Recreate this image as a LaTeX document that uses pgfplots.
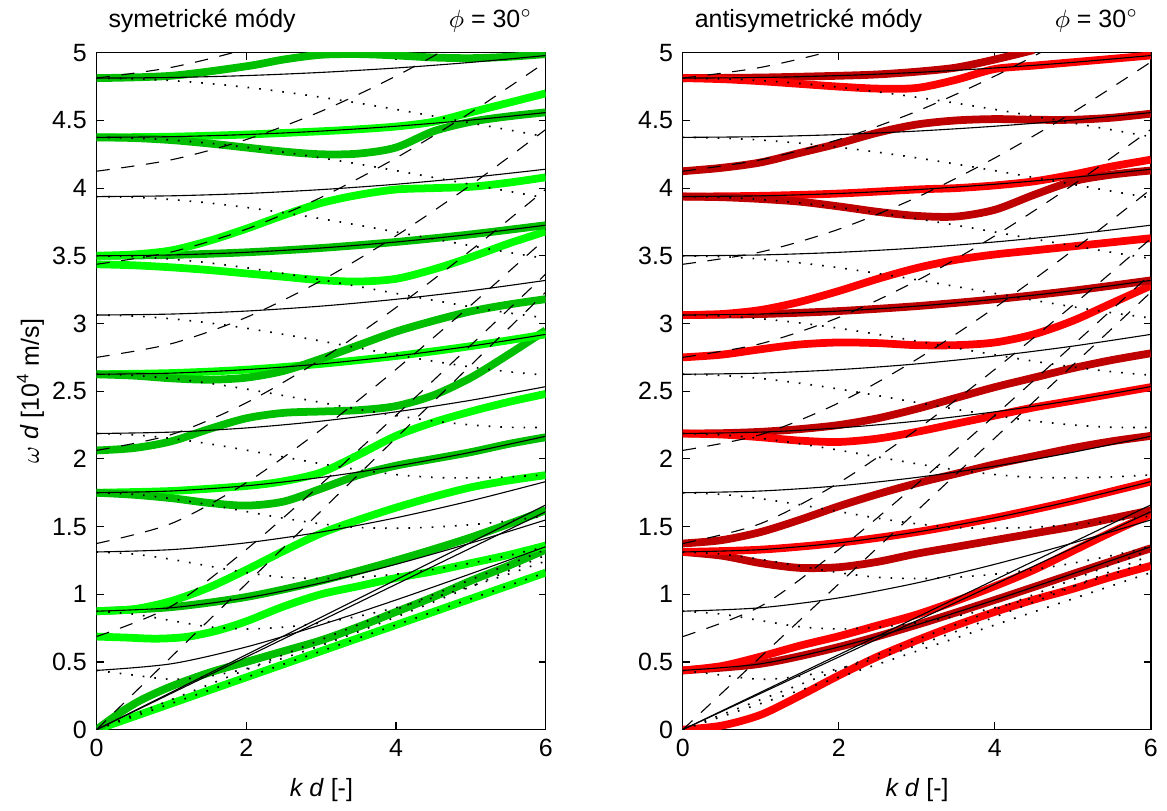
\documentclass[border=0pt]{standalone}
\usepackage{fontspec}
\setmainfont{Liberation Sans}
\usepackage{pgfplots}
\usepackage{pgfplotstable}
\pgfplotsset{compat=1.18}

\definecolor{lgr}{RGB}{0,255,0}
\definecolor{dgr}{RGB}{0,190,0}
\definecolor{lrd}{RGB}{255,0,0}
\definecolor{drd}{RGB}{190,0,0}
\newcommand{\fs}{\fontsize{9}{10.8}\selectfont}

% thin solid family (k, n=1..11)
\pgfplotstableread{
k t1 t2 t3 t4 t5 t6 t7 t8 t9 t10 t11
0 0.4375 0.875 1.3125 1.75 2.1875 2.625 3.0625 3.5 3.9375 4.375 4.8125
1 0.4866 0.9006 1.3297 1.7629 2.1979 2.6336 3.0699 3.5065 3.9433 4.3802 4.8172
2 0.6107 0.9733 1.3800 1.8012 2.2286 2.6594 3.0920 3.5259 3.9605 4.3957 4.8313
3 0.7746 1.0836 1.4599 1.8631 2.2790 2.7017 3.1285 3.5579 3.9891 4.4214 4.8548
4 0.9580 1.2215 1.5650 1.9465 2.3477 2.7599 3.1789 3.6023 4.0287 4.4573 4.8874
5 1.1517 1.3786 1.6905 2.0488 2.4331 2.8330 3.2425 3.6586 4.0791 4.5028 4.9290
6 1.3512 1.5492 1.8322 2.1672 2.5337 2.9198 3.3186 3.7262 4.1398 4.5580 4.9794
}\thintab

% dashed family (k, j=1..7)
\pgfplotstableread{
k a1 a2 a3 a4 a5 a6 a7
0 0.6875 1.375 2.0625 2.75 3.4375 4.125 4.8125
1 0.9119 1.5225 2.1795 2.8509 3.5285 4.2093 4.8920
2 1.3305 1.8236 2.4138 3.0451 3.6965 4.3590 5.0282
3 1.8136 2.2165 2.7355 3.3163 3.9316 4.5676 5.2167
4 2.3212 2.6610 3.1175 3.6473 4.2227 4.8276 5.4520
5 2.8402 3.1350 3.5405 4.0234 4.5591 5.1310 5.7290
6 3.3653 3.6271 3.9914 4.4331 4.9314 5.4710 6.0400
}\dashtab

% dotted family (k, n=1..11)
\pgfplotstableread{
k d1 d2 d3 d4 d5 d6 d7 d8 d9 d10 d11
0.0 0.4375 0.8750 1.3125 1.7500 2.1875 2.6250 3.0625 3.5000 3.9375 4.3750 4.8125
0.5 0.4028 0.8530 1.2968 1.7379 2.1776 2.6167 3.0553 3.4937 3.9318 4.3699 4.8078
1.0 0.3719 0.8055 1.2580 1.7061 2.1509 2.5937 3.0351 3.4757 3.9157 4.3552 4.7944
1.5 0.3945 0.7601 1.2083 1.6615 2.1117 2.5591 3.0043 3.4480 3.8905 4.3322 4.7731
2.0 0.4504 0.7440 1.1600 1.6111 2.0646 2.5160 2.9651 3.4121 3.8576 4.3018 4.7450
2.5 0.5293 0.7570 1.1253 1.5617 2.0138 2.4675 2.9197 3.3700 3.8183 4.2651 4.7108
3.0 0.6224 0.7890 1.1160 1.5202 1.9639 2.4166 2.8703 3.3230 3.7741 4.2235 4.6714
3.5 0.7243 0.8379 1.1257 1.4936 1.9193 2.3664 2.8194 3.2732 3.7262 4.1778 4.6280
4.0 0.8318 0.9008 1.1484 1.4880 1.8843 2.3200 2.7690 3.2221 3.6759 4.1292 4.5814
4.5 0.9429 0.9752 1.1835 1.4960 1.8633 2.2803 2.7215 3.1717 3.6249 4.0788 4.5322
5.0 1.0566 1.0585 1.2298 1.5140 1.8600 2.2506 2.6791 3.1234 3.5743 4.0276 4.4814
5.5 1.1720 1.1489 1.2861 1.5415 1.8670 2.2338 2.6439 3.0791 3.5256 3.9771 4.4304
6.0 1.2888 1.2448 1.3513 1.5780 1.8820 2.2319 2.6185 3.0404 3.4800 3.9279 4.3799
}\dottab

\pgfplotsset{
  thn/.style={black, line width=0.4pt, smooth},
  dsh/.style={black, line width=0.4pt, smooth, dash pattern=on 4.8pt off 4.2pt},
  dtt/.style={black, line width=0.6pt, smooth, dash pattern=on 0.6pt off 3.6pt},
  thk/.style={line width=2.8pt, smooth},
  panel/.style={
    scale only axis, height=244.1pt, anchor=south west,
    xmin=0, xmax=6, ymin=0, ymax=5,
    xtick={0,2,4,6}, ytick={0,0.5,1,1.5,2,2.5,3,3.5,4,4.5,5},
    tick align=inside, major tick length=2.6pt,
    tick style={black, line width=0.4pt},
    axis line style={line width=0.5pt},
    tick label style={font=\fs},
    /pgf/number format/assume math mode=true,
  },
}

\newcommand{\bg}{%
  \addplot[thn] coordinates {(0,0) (6,1.66)};
  \addplot[thn] coordinates {(0,0) (6,1.61)};
  \foreach \c in {t1,t2,t3,t4,t5,t6,t7,t8,t9,t10,t11} {
    \addplot[thn] table[x=k, y=\c] {\thintab};
  }
  \addplot[dsh] coordinates {(0,0) (6,3.231)};
  \foreach \c in {a1,a2,a3,a4,a5,a6,a7} {
    \addplot[dsh] table[x=k, y=\c] {\dashtab};
  }
  \addplot[dtt] coordinates {(0,0) (6,1.16)};
  \addplot[dtt] coordinates {(0,0) (6,1.33)};
  \foreach \c in {d1,d2,d3,d4,d5,d6,d7,d8,d9,d10,d11} {
    \addplot[dtt] table[x=k, y=\c] {\dottab};
  }
}

\begin{document}
\begin{tikzpicture}
\path (0,0) rectangle (420.1pt,289.8pt);

% ---------- symmetric modes ----------
\begin{axis}[panel, at={(34.8pt,27.4pt)}, width=162pt]
  \addplot[thk, lgr] coordinates {(0,0) (6,1.16)};
  \addplot[thk, dgr] coordinates {(0,0) (0.3,0.12) (0.6,0.22) (1,0.32) (1.5,0.42) (2,0.5) (2.5,0.58) (3,0.66) (3.5,0.76) (4,0.87) (4.5,0.98) (5,1.1) (5.5,1.21) (6,1.33)};
  \addplot[thk, lgr] coordinates {(0,0.6875) (0.4,0.68) (0.8,0.672) (1.2,0.685) (1.6,0.73) (2,0.8) (2.5,0.91) (3,1.0) (3.5,1.06) (4,1.12) (4.5,1.17) (5,1.23) (5.5,1.29) (6,1.36)};
  \addplot[thk, dgr] coordinates {(0,0.875) (1,0.905) (2,0.98) (3,1.1) (4,1.25) (5,1.42) (6,1.62)};
  \addplot[thk, lgr] coordinates {(0,0.875) (0.5,0.89) (1,0.95) (1.5,1.05) (2,1.18) (2.5,1.32) (3,1.45) (3.5,1.55) (4,1.64) (4.5,1.72) (5,1.79) (5.5,1.84) (6,1.88)};
  \addplot[thk, lgr] coordinates {(0,1.75) (1,1.763) (2,1.8) (2.5,1.835) (3,1.9) (3.5,2.03) (4,2.17) (4.5,2.27) (5,2.35) (5.5,2.42) (6,2.48)};
  \addplot[thk, dgr] coordinates {(0,1.75) (0.5,1.735) (1,1.71) (1.5,1.675) (2,1.655) (2.5,1.685) (3,1.78) (3.5,1.88) (4,1.95) (4.5,2.0) (5,2.05) (5.5,2.11) (6,2.16)};
  \addplot[thk, dgr] coordinates {(0,2.0625) (0.5,2.08) (1,2.13) (1.5,2.22) (2,2.3) (2.5,2.34) (3,2.35) (3.5,2.36) (4,2.39) (4.5,2.47) (5,2.6) (5.5,2.77) (6,2.95)};
  \addplot[thk, lgr] coordinates {(0,2.625) (1,2.634) (2,2.659) (3,2.702) (4,2.76) (5,2.833) (6,2.92)};
  \addplot[thk, dgr] coordinates {(0,2.625) (0.5,2.615) (1,2.595) (1.5,2.585) (2,2.6) (2.5,2.65) (3,2.74) (3.5,2.84) (4,2.94) (4.5,3.02) (5,3.09) (5.5,3.14) (6,3.18)};
  \addplot[thk, lgr] coordinates {(0,3.4375) (0.5,3.43) (1,3.415) (1.5,3.395) (2,3.37) (2.5,3.345) (3,3.32) (3.5,3.31) (4,3.33) (4.5,3.4) (5,3.49) (5.5,3.59) (6,3.68)};
  \addplot[thk, dgr] coordinates {(0,3.5) (1,3.5065) (2,3.5259) (3,3.5579) (4,3.6023) (5,3.6586) (6,3.7262)};
  \addplot[thk, lgr] coordinates {(0,3.5) (0.5,3.51) (1,3.54) (1.5,3.61) (2,3.7) (2.5,3.8) (3,3.89) (3.5,3.95) (4,3.99) (4.5,4.0) (5,4.01) (5.5,4.04) (6,4.08)};
  \addplot[thk, lgr] coordinates {(0,4.375) (1,4.38) (2,4.396) (3,4.42) (3.5,4.435) (4,4.455) (4.5,4.49) (5,4.56) (5.5,4.63) (6,4.7)};
  \addplot[thk, dgr] coordinates {(0,4.375) (0.5,4.37) (1,4.355) (1.5,4.33) (2,4.3) (2.5,4.27) (3,4.25) (3.5,4.255) (4,4.3) (4.5,4.42) (5,4.49) (5.5,4.53) (6,4.56)};
  \addplot[thk, dgr] coordinates {(0,4.8125) (1,4.83) (2,4.9) (2.5,4.95) (3,4.985) (3.5,4.99) (4,4.98) (4.5,4.965) (5,4.96) (5.5,4.97) (6,4.99)};
  \bg
\end{axis}

% ---------- antisymmetric modes ----------
\begin{axis}[panel, at={(246.2pt,27.4pt)}, width=168.8pt]
  \addplot[thk, lrd] coordinates {(0,0) (0.5,0.03) (1,0.11) (1.5,0.25) (2,0.4) (2.5,0.54) (3,0.66) (3.5,0.77) (4,0.87) (4.5,0.96) (5,1.04) (5.5,1.13) (6,1.21)};
  \addplot[thk, drd] coordinates {(0,0.4375) (1,0.4866) (2,0.6107) (3,0.7746) (4,0.958) (5,1.15) (6,1.34)};
  \addplot[thk, lrd] coordinates {(0,0.4375) (0.5,0.47) (1,0.54) (1.5,0.62) (2,0.69) (2.5,0.77) (3,0.85) (3.5,0.95) (4,1.06) (4.5,1.18) (5,1.32) (5.5,1.46) (6,1.59)};
  \addplot[thk, drd] coordinates {(0,1.3125) (0.5,1.285) (1,1.23) (1.5,1.195) (2,1.2) (2.5,1.24) (3,1.3) (3.5,1.35) (4,1.4) (4.5,1.45) (5,1.5) (5.5,1.56) (6,1.62)};
  \addplot[thk, lrd] coordinates {(0,1.3125) (1,1.3297) (2,1.38) (3,1.4599) (4,1.565) (5,1.6905) (6,1.8322)};
  \addplot[thk, drd] coordinates {(0,1.375) (0.5,1.4) (1,1.46) (1.5,1.55) (2,1.65) (2.5,1.74) (3,1.82) (3.5,1.89) (4,1.96) (4.5,2.02) (5,2.08) (5.5,2.13) (6,2.17)};
  \addplot[thk, drd] coordinates {(0,2.1875) (0.5,2.19) (1,2.2) (1.5,2.22) (2,2.25) (2.5,2.3) (3,2.37) (3.5,2.45) (4,2.53) (4.5,2.6) (5,2.67) (5.5,2.73) (6,2.78)};
  \addplot[thk, lrd] coordinates {(0,2.1875) (0.5,2.18) (1,2.16) (1.5,2.135) (2,2.125) (2.5,2.15) (3,2.2) (3.5,2.26) (4,2.32) (4.5,2.38) (5,2.43) (5.5,2.48) (6,2.53)};
  \addplot[thk, lrd] coordinates {(0,2.75) (0.5,2.77) (1,2.81) (1.5,2.845) (2,2.86) (2.5,2.855) (3,2.84) (3.5,2.84) (4,2.86) (4.5,2.92) (5,3.02) (5.5,3.15) (6,3.28)};
  \addplot[thk, drd] coordinates {(0,3.0625) (1,3.0699) (2,3.092) (3,3.1285) (4,3.1789) (5,3.2425) (6,3.3186)};
  \addplot[thk, lrd] coordinates {(0,3.0625) (0.5,3.07) (1,3.1) (1.5,3.16) (2,3.24) (2.5,3.33) (3,3.41) (3.5,3.47) (4,3.51) (4.5,3.54) (5,3.57) (5.5,3.6) (6,3.63)};
  \addplot[thk, lrd] coordinates {(0,3.9375) (1,3.943) (2,3.96) (3,3.99) (3.5,4.0) (4,4.02) (4.5,4.05) (5,4.1) (5.5,4.16) (6,4.21)};
  \addplot[thk, drd] coordinates {(0,3.9375) (0.5,3.933) (1,3.92) (1.5,3.9) (2,3.865) (2.5,3.825) (3,3.795) (3.5,3.79) (4,3.84) (4.5,3.95) (5,4.05) (5.5,4.1) (6,4.13)};
  \addplot[thk, drd] coordinates {(0,4.125) (0.5,4.15) (1,4.19) (1.5,4.26) (2,4.33) (2.5,4.41) (3,4.47) (3.5,4.5) (4,4.51) (4.5,4.505) (5,4.505) (5.5,4.52) (6,4.55)};
  \addplot[thk, drd] coordinates {(0,4.8125) (1,4.817) (2,4.83) (2.5,4.84) (3,4.86) (3.5,4.89) (4,4.95) (4.5,5.02)};
  \addplot[thk, lrd] coordinates {(0,4.8125) (0.5,4.805) (1,4.79) (1.5,4.77) (2,4.75) (2.5,4.735) (3,4.74) (3.5,4.8) (4,4.88) (4.5,4.905) (5,4.93) (5.5,4.955) (6,4.98)};
  \bg
\end{axis}

\node[anchor=base west, font=\fs] at (35.6pt,280.5pt) {symetrické módy};
\node[anchor=base east, font=\fs] at (195.5pt,280.5pt) {$\phi$ = 30$^{\circ}$};
\node[anchor=base west, font=\fs] at (247pt,280.5pt) {antisymetrické módy};
\node[anchor=base east, font=\fs] at (414pt,280.5pt) {$\phi$ = 30$^{\circ}$};
\node[rotate=90, font=\fs] at (11pt,149.4pt) {$\omega$ \textit{d} [10\textsuperscript{4} m/s]};
\node[anchor=base, font=\fs] at (115.9pt,3.4pt) {\textit{k d} [-]};
\node[anchor=base, font=\fs] at (330.7pt,3.4pt) {\textit{k d} [-]};
\end{tikzpicture}
\end{document}
